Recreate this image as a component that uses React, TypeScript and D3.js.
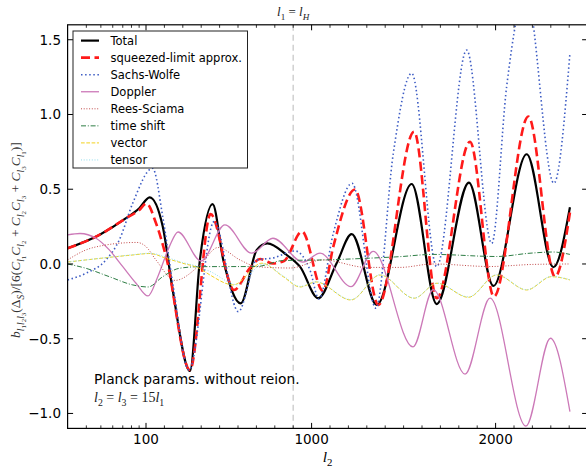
import React from 'react';
import * as d3 from 'd3';

// ---------- data (l2, value) ----------
const totalL = [30, 48.8, 73.6, 90.2, 120, 191, 245, 339, 393, 462, 520, 615, 702, 759, 865, 937, 1036, 1136, 1218, 1354, 1544, 1680, 1855, 1988, 2169, 2314, 2404];
const totalV = [0.105, 0.194, 0.306, 0.373, 0.445, 0.25, -0.174, -0.716, 0.027, 0.401, 0.027, -0.263, 0.094, 0.138, 0.06, -0.018, -0.229, 0.005, 0.2, -0.274, 0.535, -0.268, 0.544, -0.147, 0.734, -0.022, 0.379];

const squeezedL = [30, 48.8, 73.6, 90.2, 102, 154, 209, 339, 451, 578, 665, 720, 790, 850, 948, 1062, 1118, 1236, 1363, 1557, 1680, 1861, 1991, 2178, 2323, 2404];
const squeezedV = [0.105, 0.194, 0.306, 0.361, 0.405, 0.274, 0.049, -0.709, 0.334, -0.174, -0.027, 0.033, 0.003, 0.02, 0.217, -0.181, 0.116, 0.498, -0.274, 0.885, -0.229, 0.818, -0.219, 0.987, -0.085, 0.344];

const swL = [30, 39.8, 54.1, 66.4, 81.5, 136, 191, 245, 334, 470, 602, 702, 790, 910, 991, 1040, 1118, 1220, 1350, 1444, 1544, 1680, 1843, 1979, 2060, 2165, 2317, 2404];
const swV = [-0.107, -0.062, 0.027, 0.161, 0.406, 0.64, 0.316, -0.127, -0.709, 0.283, -0.319, 0.027, 0.04, 0.087, -0.04, -0.234, 0.205, 0.54, -0.296, 0.74, 1.276, -0.018, 1.431, 0.138, 1.186, 1.82, 0.54, 1.41];

const dopplerL = [30, 36.3, 46.4, 56.9, 70, 85.8, 111, 164, 227, 274, 399, 529, 674, 790, 953, 1046, 1214, 1335, 1551, 1661, 1834, 1970, 2165, 2298, 2404];
const dopplerV = [0.194, 0.204, 0.172, 0.094, -0.018, -0.129, -0.214, -0.085, 0.116, 0.214, 0.02, 0.261, 0.072, 0.172, 0.013, 0.072, -0.152, 0.084, -0.555, -0.171, -0.737, -0.229, -1.084, -0.497, -0.988];

const rsL = [30, 39.8, 54.1, 73.6, 87.1, 100, 154, 258, 393, 491, 611, 702, 883, 1062, 1299, 1480, 1660, 1970, 2203, 2404];
const rsV = [0.027, 0.094, 0.127, 0.142, 0.144, 0.116, 0.027, -0.11, -0.007, 0.11, 0.027, -0.018, -0.027, 0.027, -0.023, -0.023, 0.0, -0.017, -0.003, 0.0];

const timeL = [30, 39.8, 56.9, 81.5, 111, 191, 281, 393, 702, 845, 1062, 1299, 1480, 1660, 2006, 2187, 2312, 2404];
const timeV = [0.0, -0.029, -0.085, -0.14, -0.154, -0.085, -0.029, -0.018, -0.017, 0.023, 0.027, 0.038, 0.049, 0.064, 0.05, 0.072, 0.08, 0.064];

const vectorL = [30, 39.8, 63.1, 81.5, 122, 209, 299, 390, 448, 574, 730, 846, 937, 1024, 1214, 1372, 1557, 1682, 1852, 2006, 2169, 2304, 2404];
const vectorV = [0.013, 0.027, 0.049, 0.06, 0.07, 0.038, 0.005, -0.029, -0.074, -0.14, 0.005, -0.085, -0.154, -0.12, -0.241, -0.074, -0.229, -0.129, -0.223, -0.074, -0.174, -0.085, -0.107];

const tensorL = [30, 39.8, 63.1, 81.5, 122, 209, 299, 390, 448, 600, 735, 846, 937, 1024, 1214, 1372, 1557, 1682, 1852, 2006, 2169, 2304, 2404];
const tensorV = [0.013, 0.027, 0.05, 0.062, 0.072, 0.045, 0.01, -0.02, -0.05, -0.14, 0.0, -0.08, -0.15, -0.118, -0.238, -0.072, -0.228, -0.128, -0.22, -0.072, -0.172, -0.083, -0.105];

const xMajor = [100, 1000, 2000];
const xMajorLabels = ['100', '1000', '2000'];
const xMinor = [40, 50, 60, 70, 80, 90, 200, 300, 400, 500, 600, 700, 800, 900, 1100, 1200, 1300, 1400, 1500, 1600, 1700, 1800, 1900, 2100, 2200, 2300, 2400];
const yTicks = [-1.0, -0.5, 0.0, 0.5, 1.0, 1.5];
const yTickLabels = ['\u22121.0', '\u22120.5', '0.0', '0.5', '1.0', '1.5'];
const lH = 900;

// ---------- layout ----------
const W = 586, H = 467;
const left = 67.6, right = 587.6, top = 24.8, bottom = 428.4;
const xLog = d3.scaleLog().domain([30, 100]).range([left, 146]);
const xLin = d3.scaleLinear().domain([100, 2500]).range([146, right]);
const xs = (l: number) => (l < 100 ? xLog(l) : xLin(l));
const ys = d3.scaleLinear().domain([-1.1, 1.6]).range([bottom, top]);

const series = [
  { name: 'Total', L: totalL, V: totalV, color: '#000000', width: 2.2, dash: undefined as string | undefined },
  { name: 'squeezed-limit approx.', L: squeezedL, V: squeezedV, color: '#ff1a1a', width: 2.6, dash: '9,4.5' },
  { name: 'Sachs-Wolfe', L: swL, V: swV, color: '#3d5cc4', width: 1.6, dash: '1.5,2.6' },
  { name: 'Doppler', L: dopplerL, V: dopplerV, color: '#cc79b8', width: 1.3, dash: undefined },
  { name: 'Rees-Sciama', L: rsL, V: rsV, color: '#c04848', width: 1.0, dash: '1,1.7' },
  { name: 'time shift', L: timeL, V: timeV, color: '#2e7d45', width: 1.0, dash: '5,1.8,1,1.8' },
  { name: 'vector', L: vectorL, V: vectorV, color: '#f2d21e', width: 1.0, dash: '3.7,1.6' },
  { name: 'tensor', L: tensorL, V: tensorV, color: '#8fdcec', width: 1.0, dash: '1,1.7' },
];

const line = d3
  .line<[number, number]>()
  .x((d) => xs(d[0]))
  .y((d) => ys(d[1]))
  .curve(d3.curveMonotoneX);

type Seg = { t: string; lv: number; it?: boolean };
const lvOff = [0, 0.28, 0.46];
const lvSize = [1, 0.7, 0.52];

function MathText({ x, y, segs, size, anchor, transform, fill }: any) {
  let prev = 0;
  return (
    <text x={x} y={y} transform={transform} textAnchor={anchor || 'start'} fill={fill || '#111'}
      style={{ fontFamily: '"Liberation Serif", "DejaVu Serif", serif', fontSize: size }}>
      {segs.map((s: Seg, i: number) => {
        const dy = (lvOff[s.lv] - lvOff[prev]) * size;
        prev = s.lv;
        return (
          <tspan key={i} dy={dy} fontSize={size * lvSize[s.lv]} fontStyle={s.it ? 'italic' : 'normal'}>
            {s.t}
          </tspan>
        );
      })}
    </text>
  );
}

const ylabelSegs: Seg[] = [
  { t: 'b', lv: 0, it: true },
  { t: 'l', lv: 1, it: true }, { t: '1', lv: 2 },
  { t: 'l', lv: 1, it: true }, { t: '2', lv: 2 },
  { t: 'l', lv: 1, it: true }, { t: '3', lv: 2 },
  { t: '(\u0394', lv: 0 }, { t: 'S', lv: 1, it: true },
  { t: ')/[6(', lv: 0 },
  { t: 'C', lv: 0, it: true }, { t: 'l', lv: 1, it: true }, { t: '1', lv: 2 },
  { t: 'C', lv: 0, it: true }, { t: 'l', lv: 1, it: true }, { t: '2', lv: 2 },
  { t: ' + ', lv: 0 },
  { t: 'C', lv: 0, it: true }, { t: 'l', lv: 1, it: true }, { t: '2', lv: 2 },
  { t: 'C', lv: 0, it: true }, { t: 'l', lv: 1, it: true }, { t: '3', lv: 2 },
  { t: ' + ', lv: 0 },
  { t: 'C', lv: 0, it: true }, { t: 'l', lv: 1, it: true }, { t: '3', lv: 2 },
  { t: 'C', lv: 0, it: true }, { t: 'l', lv: 1, it: true }, { t: '1', lv: 2 },
  { t: ')]', lv: 0 },
];

const topSegs: Seg[] = [
  { t: 'l', lv: 0, it: true }, { t: '1', lv: 1 }, { t: ' = ', lv: 0 }, { t: 'l', lv: 0, it: true }, { t: 'H', lv: 1, it: true },
];
const relSegs: Seg[] = [
  { t: 'l', lv: 0, it: true }, { t: '2', lv: 1 }, { t: ' = ', lv: 0 },
  { t: 'l', lv: 0, it: true }, { t: '3', lv: 1 }, { t: ' = 15', lv: 0 },
  { t: 'l', lv: 0, it: true }, { t: '1', lv: 1 },
];
const xlabSegs: Seg[] = [{ t: 'l', lv: 0, it: true }, { t: '2', lv: 1 }];

export default function App() {
  const sans = '"DejaVu Sans", sans-serif';
  const legX = 73, legY = 31, legW = 174.5, legH = 137;
  return (
    <svg width={W} height={H} style={{ position: 'absolute', left: 0, top: 0, background: '#fff' }}>
      <defs>
        <clipPath id="plotclip">
          <rect x={left} y={top} width={right - left} height={bottom - top} />
        </clipPath>
      </defs>
      <rect x={0} y={0} width={W} height={H} fill="#fff" />
      <g clipPath="url(#plotclip)">
        <line x1={xs(lH)} x2={xs(lH)} y1={top} y2={bottom} stroke="#d0d0d0" strokeWidth={1.5} strokeDasharray="6,4" />
        {series.map((s) => (
          <path key={s.name}
            d={line(s.L.map((l, i) => [l, s.V[i]] as [number, number])) || ''}
            fill="none" stroke={s.color} strokeWidth={s.width} strokeDasharray={s.dash}
            strokeLinejoin="round" />
        ))}
      </g>
      {/* frame */}
      <rect x={left} y={top} width={right - left} height={bottom - top} fill="none" stroke="#000" strokeWidth={1.2} />
      {/* x ticks */}
      {xMajor.map((v, i) => (
        <g key={'xm' + v}>
          <line x1={xs(v)} x2={xs(v)} y1={bottom} y2={bottom - 5.5} stroke="#000" strokeWidth={1} />
          <line x1={xs(v)} x2={xs(v)} y1={top} y2={top + 5.5} stroke="#000" strokeWidth={1} />
          <text x={xs(v)} y={443.5} textAnchor="middle" style={{ fontFamily: sans, fontSize: 13.5 }} fill="#000">{xMajorLabels[i]}</text>
        </g>
      ))}
      {xMinor.map((v) => (
        <g key={'xn' + v}>
          <line x1={xs(v)} x2={xs(v)} y1={bottom} y2={bottom - 3} stroke="#000" strokeWidth={0.8} />
          <line x1={xs(v)} x2={xs(v)} y1={top} y2={top + 3} stroke="#000" strokeWidth={0.8} />
        </g>
      ))}
      {/* y ticks */}
      {yTicks.map((v, i) => (
        <g key={'y' + v}>
          <line x1={left} x2={left + 5.5} y1={ys(v)} y2={ys(v)} stroke="#000" strokeWidth={1} />
          <line x1={right} x2={right - 5.5} y1={ys(v)} y2={ys(v)} stroke="#000" strokeWidth={1} />
          <text x={61} y={ys(v) + 5} textAnchor="end" style={{ fontFamily: sans, fontSize: 13.5 }} fill="#000">{yTickLabels[i]}</text>
        </g>
      ))}
      {/* labels */}
      <MathText x={(left + right) / 2} y={461.5} segs={xlabSegs} size={15.5} anchor="middle" fill="#000" />
      <MathText x={0} y={0} transform="translate(20,240) rotate(-90)" segs={ylabelSegs} size={13.5} anchor="middle" fill="#333" />
      <MathText x={xs(lH)} y={16} segs={topSegs} size={13} anchor="middle" fill="#222" />
      <text x={94} y={384} style={{ fontFamily: sans, fontSize: 13.8 }} fill="#000">Planck params. without reion.</text>
      <MathText x={94} y={402} segs={relSegs} size={14} anchor="start" fill="#222" />
      {/* legend */}
      <rect x={legX} y={legY} width={legW} height={legH} fill="#fff" stroke="#222" strokeWidth={1} />
      {series.map((s, i) => {
        const yy = 40.6 + i * 17.05;
        return (
          <g key={'lg' + s.name}>
            <line x1={81} x2={99} y1={yy} y2={yy} stroke={s.color} strokeWidth={s.width} strokeDasharray={s.dash} />
            <text x={110.5} y={yy + 4.1} style={{ fontFamily: sans, fontSize: 11.5 }} fill="#000">{s.name}</text>
          </g>
        );
      })}
    </svg>
  );
}
